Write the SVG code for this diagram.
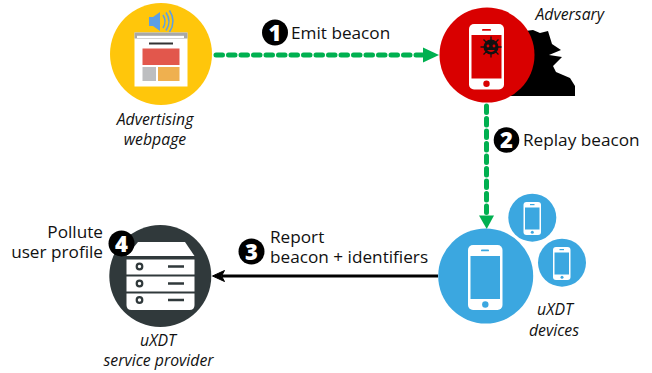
<svg xmlns="http://www.w3.org/2000/svg" width="652" height="373" viewBox="0 0 652 373">
<style>
text{font-family:"Open Sans","Noto Sans","DejaVu Sans",sans-serif;fill:#111}
.l{font-size:17.2px}
.i{font-size:15.8px;font-style:italic;text-anchor:middle}
.n{font-size:22px;font-weight:800;fill:#fff;text-anchor:middle}
.g{stroke:#00b050;stroke-width:5;fill:none;stroke-dasharray:6.5 6;stroke-linecap:round}
</style>
<g id="connectors">
<path class="g" d="M216 55H428"/>
<path d="M423 47.500L439 55L423 62.500Z" fill="#00b050"/>
<path class="g" d="M486.500 106V214"/>
<path d="M479 215.500H494L486.700 229Z" fill="#00b050"/>
<path d="M438 276H222" stroke="#000" stroke-width="3.200"/>
<path d="M212.500 276L224.500 270.500L221.500 276L224.500 281.500Z" fill="#000" stroke="#000" stroke-width="1"/>
</g>
<g id="webpage">
<circle cx="161" cy="54" r="51" fill="#ffc60b"/>
<path d="M149 17H153L160 12V31L153 26H149Z" fill="#5b9fe6"/>
<path d="M163 15Q167 21.500 163 28M166 12.500Q172 21.500 166 30.500M169.500 10.500Q176.500 21.500 169.500 32" stroke="#5b9fe6" stroke-width="1.500" fill="none"/>
<rect x="134.500" y="32.500" width="53" height="54" fill="#fff"/>
<rect x="134.500" y="32.500" width="53" height="6" fill="#a8a8a8"/>
<rect x="137" y="35.800" width="47" height="2.200" fill="#fff"/>
<rect x="149" y="42.500" width="24" height="2" fill="#333"/>
<rect x="142.500" y="48.500" width="37" height="16.500" fill="#e2574c"/>
<rect x="142.500" y="67" width="13.500" height="14" fill="#bdbec0"/>
<rect x="158" y="67" width="21.500" height="14" fill="#efb04f"/>
<text class="i" x="155"><tspan x="155" y="125">Advertising</tspan><tspan x="155" y="145">webpage</tspan></text>
</g>
<g id="adversary">
<path d="M525 31L533 30L540 33L548 31L552 44L561 50L549 55L562 57L553 66L556 72L570 78L575 86L575 96H510Z" fill="#000"/>
<circle cx="487" cy="55" r="47.500" fill="#d90000"/>
<rect x="469" y="24" width="35" height="65.500" rx="5" fill="#fff"/>
<rect x="471.500" y="35" width="30" height="43.500" fill="#d90000"/>
<rect x="482" y="29" width="9" height="1.800" rx="0.900" fill="#d90000"/>
<circle cx="486.500" cy="83.800" r="3.200" fill="#d90000"/>
<circle cx="491" cy="47" r="7.500" fill="#111"/>
<path d="M491 36.500V57.500M480.500 47H501.500M483.500 39.500L498.500 54.500M498.500 39.500L483.500 54.500" stroke="#111" stroke-width="1.300"/>
<circle cx="488" cy="46" r="1.400" fill="#d90000"/>
<circle cx="494" cy="46" r="1.400" fill="#d90000"/>
<path d="M487 50Q491 54 495 50Z" fill="#d90000"/>
<text x="535.500" y="20" font-size="15.800" font-style="italic">Adversary</text>
</g>
<g id="devices">
<circle cx="485.700" cy="276" r="47.500" fill="#3ba7e0"/>
<rect x="468" y="245" width="34.500" height="65" rx="5" fill="#fff"/>
<rect x="470.500" y="256" width="29.500" height="43" fill="#3ba7e0"/>
<rect x="481" y="249.500" width="8" height="1.800" rx="0.900" fill="#3ba7e0"/>
<circle cx="485.300" cy="304.500" r="3.200" fill="#3ba7e0"/>
<circle cx="532.300" cy="217.700" r="24" fill="#3ba7e0"/>
<rect x="523.500" y="202" width="17.500" height="33" rx="3" fill="#fff"/>
<rect x="525" y="207.500" width="14.500" height="22" fill="#3ba7e0"/>
<rect x="530" y="204" width="4.500" height="1.200" fill="#3ba7e0"/>
<circle cx="532.300" cy="232.300" r="1.500" fill="#3ba7e0"/>
<circle cx="562" cy="262.700" r="24" fill="#3ba7e0"/>
<rect x="553" y="247" width="17.500" height="33" rx="3" fill="#fff"/>
<rect x="554.500" y="252.500" width="14.500" height="22" fill="#3ba7e0"/>
<rect x="559.500" y="249" width="4.500" height="1.200" fill="#3ba7e0"/>
<circle cx="562" cy="277.300" r="1.500" fill="#3ba7e0"/>
<text class="i"><tspan x="555" y="315">uXDT</tspan><tspan x="554" y="336">devices</tspan></text>
</g>
<g id="provider">
<circle cx="160.300" cy="276" r="51" fill="#30393b"/>
<path d="M138 242H185L194.500 256H126.500Z" fill="#fff"/>
<rect x="126.500" y="259.500" width="68" height="15" fill="#fff"/>
<rect x="126.500" y="276.500" width="68" height="15" fill="#fff"/>
<path d="M126.500 293.500H194.500V305Q194.500 310 189.500 310H131.500Q126.500 310 126.500 305Z" fill="#fff"/>
<g fill="#fff" stroke="#30393b" stroke-width="2.200">
<circle cx="139.500" cy="266.500" r="2.800"/><circle cx="139.500" cy="283.500" r="2.800"/><circle cx="139.500" cy="300" r="2.800"/>
</g>
<path d="M168 266.500H184M168 283.500H184M168 300H184" stroke="#30393b" stroke-width="2.500"/>
<text class="i"><tspan x="158" y="346">uXDT</tspan><tspan x="158.500" y="366">service provider</tspan></text>
</g>
<g id="step1">
<circle cx="275" cy="32.500" r="13" fill="#000"/>
<text class="n" x="275" y="40.500">1</text>
<text class="l" x="291" y="39">Emit beacon</text>
</g>
<g id="step2">
<circle cx="506.500" cy="140" r="12.800" fill="#000"/>
<text class="n" x="506.500" y="148">2</text>
<text class="l" x="523" y="146">Replay beacon</text>
</g>
<g id="step3">
<circle cx="251.500" cy="251.500" r="13" fill="#000"/>
<text class="n" x="251.500" y="259.500">3</text>
<text class="l"><tspan x="270" y="243">Report</tspan><tspan x="270" y="263">beacon + identifiers</tspan></text>
</g>
<g id="step4">
<circle cx="121.500" cy="243.500" r="13" fill="#000"/>
<text class="n" x="121.500" y="251.500">4</text>
<text class="l" text-anchor="end"><tspan x="103" y="238">Pollute</tspan><tspan x="103" y="258">user profile</tspan></text>
</g>
</svg>
